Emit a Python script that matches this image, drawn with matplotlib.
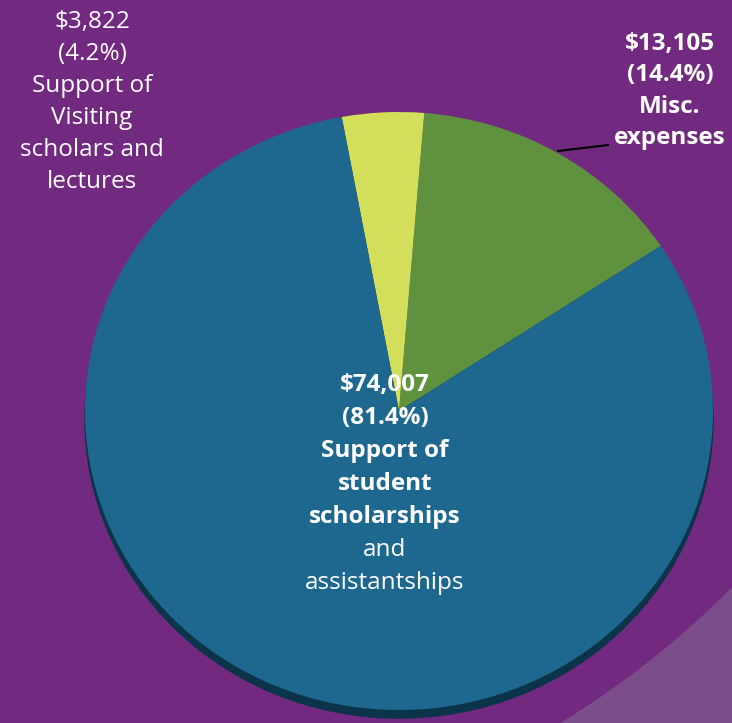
import matplotlib.pyplot as plt
from matplotlib.patches import Circle, Ellipse, Rectangle

# budget split
categories = ["Misc. expenses", "Support of Visiting scholars and lectures",
              "Support of student scholarships and assistantships"]
amounts = [13105, 3822, 74007]
colors = ["#5f913e", "#d3de5b", "#1e6890"]

total = sum(amounts)
pcts = [100.0 * a / total for a in amounts]


def head(i):
    return ["${:,}".format(amounts[i]), "({:.1f}%)".format(pcts[i])]


# (lines, bold flags, x centre, first line y, line step) in pixel coords
labels = [
    (head(1) + ["Support of", "Visiting", "scholars and", "lectures"],
     [False] * 6, 92, 22, 32),
    (head(0) + ["Misc.", "expenses"], [True] * 4, 670, 44, 31.3),
    (head(2) + ["Support of", "student", "scholarships", "and", "assistantships"],
     [True] * 5 + [False] * 2, 385, 385, 33),
]

fig = plt.figure(figsize=(7.32, 7.23), dpi=100)
ax = fig.add_axes([0, 0, 1, 1])
ax.set_xlim(0, 732)
ax.set_ylim(723, 0)
ax.axis("off")
ax.add_patch(Rectangle((0, 0), 732, 723, color="#7c4e89", zorder=0))
ax.add_patch(Circle((85, -55), 911, color="#712a80", zorder=1))

# pie is a slightly squashed ellipse
cx, cy, rx, ry = 399, 411, 314, 299
pax = fig.add_axes([(cx - rx) / 732, (723 - cy - ry) / 723, 2 * rx / 732, 2 * ry / 723])
pax.add_patch(Ellipse((0, -0.027), 2, 2, color="#0b3349", zorder=0, clip_on=False))
wedges, _ = pax.pie(amounts, colors=colors, startangle=33.5, radius=1,
                    wedgeprops={"linewidth": 0})
for w in wedges:
    w.set_zorder(2)
pax.set_aspect("auto")
pax.set_xlim(-1, 1)
pax.set_ylim(-1, 1)
pax.axis("off")
pax.patch.set_alpha(0)

ax.plot([558, 600, 608], [151, 146, 145], color="black", lw=1.5, zorder=3)

for lines, bolds, x, y0, step in labels:
    for k, (s, b) in enumerate(zip(lines, bolds)):
        fig.text(x / 732, 1 - (y0 + k * step) / 723, s, ha="center", va="center",
                 color="white", fontsize=17.5, family="Open Sans",
                 weight="bold" if b else "normal", zorder=5)

fig.savefig("out.png", dpi=100)
